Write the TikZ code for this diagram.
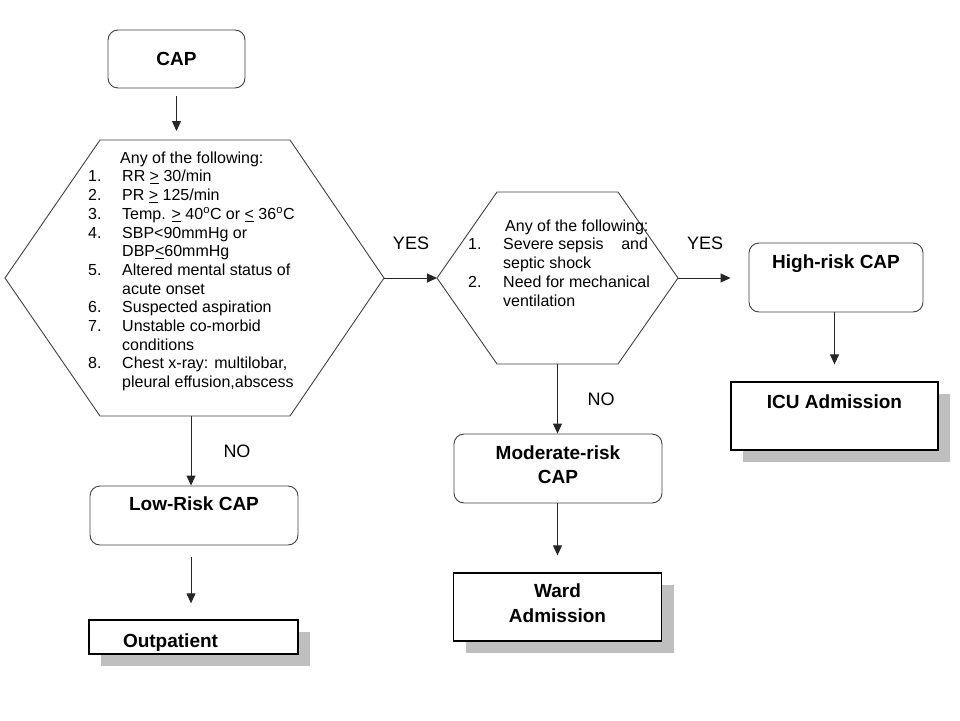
\documentclass[tikz,border=0pt]{standalone}
\usepackage{fontspec}
\setmainfont{Liberation Sans}
\usetikzlibrary{arrows.meta,shadows}

\newcommand{\num}[1]{\makebox[34pt][l]{#1}}

\tikzset{
  stepbox/.style={draw=black!75, line width=0.9pt, rounded corners=10pt, inner xsep=0pt, inner ysep=0pt,
    font=\fontsize{19}{24}\selectfont\bfseries, align=center},
  endbox/.style={draw=black, line width=1.3pt, fill=white, inner xsep=0pt, inner ysep=0pt,
    font=\fontsize{19}{25}\selectfont\bfseries, align=center,
    drop shadow={shadow xshift=12pt, shadow yshift=-12pt, opacity=1, fill=gray!50}},
  hexline/.style={draw=black!75, line width=0.9pt},
  listtext/.style={font=\fontsize{16}{18.7}\selectfont, align=left, inner sep=0pt},
  lbl/.style={font=\fontsize{18}{21}\selectfont},
  arr/.style={draw=black!85, line width=1pt, -{Triangle[length=10pt,width=9pt]}}
}

\begin{document}
\begin{tikzpicture}[x=1pt,y=-1pt]
  \useasboundingbox (0,0) rectangle (960,720);

  % boxes
  \node[stepbox, minimum width=137pt, text height=35pt, text depth=23pt] (cap) at (176.5,59) {CAP};
  \node[stepbox, minimum width=208pt, text height=24pt, text depth=35pt] (low) at (194,515.5) {Low-Risk CAP};
  \node[stepbox, minimum width=208pt, text height=49pt, text depth=20pt] (mod) at (558,468.5) {Moderate-risk\\CAP};
  \node[stepbox, minimum width=174pt, text height=25pt, text depth=44pt] (hi) at (836,277.5) {High-risk CAP};
  \node[endbox, minimum width=209pt, text width=209pt, align=left, text height=27pt, text depth=7pt] (out) at (193.5,637) {\hspace*{34pt}Outpatient};
  \node[endbox, minimum width=208pt, text height=49pt, text depth=19pt] (ward) at (557.5,607) {Ward\\Admission};
  \node[endbox, minimum width=207pt, text height=26pt, text depth=42pt] (icu) at (834.5,416) {ICU Admission};

  % first decision
  \coordinate (h1w) at (5,278);
  \coordinate (h1nw) at (100,140);
  \coordinate (h1ne) at (290,140);
  \coordinate (h1e) at (384,278);
  \coordinate (h1se) at (290,416);
  \coordinate (h1sw) at (100,416);
  \coordinate (h1s) at (191,416);
  \draw[hexline] (h1w) -- (h1nw) -- (h1ne) -- (h1e) -- (h1se) -- (h1sw) -- cycle;
  \node[listtext, anchor=north west] (crit1) at (88,151.5) {%
    \hspace*{32pt}Any of the following:\\
    \num{1.}RR \underline{>} 30/min\\
    \num{2.}PR \underline{>} 125/min\\
    \num{3.}Temp. \underline{>} 40\textsuperscript{o}C or \underline{<} 36\textsuperscript{o}C\\
    \num{4.}SBP<90mmHg or\\
    \num{}DBP\underline{<}60mmHg\\
    \num{5.}Altered mental status of\\
    \num{}acute onset\\
    \num{6.}Suspected aspiration\\
    \num{7.}Unstable co-morbid\\
    \num{}conditions\\
    \num{8.}Chest x-ray: multilobar,\\
    \num{}pleural effusion,abscess};

  % second decision
  \coordinate (h2w) at (437,278);
  \coordinate (h2nw) at (497,192);
  \coordinate (h2ne) at (618,192);
  \coordinate (h2e) at (678,278);
  \coordinate (h2se) at (618,364);
  \coordinate (h2sw) at (497,364);
  \coordinate (h2s) at (557.5,364);
  \draw[hexline] (h2w) -- (h2nw) -- (h2ne) -- (h2e) -- (h2se) -- (h2sw) -- cycle;
  \node[listtext, anchor=north west] (crit2) at (468,219.5) {%
    \hspace*{37pt}Any of the following:\\
    \makebox[35pt][l]{1.}Severe sepsis\hspace{1.1em}and\\
    \makebox[35pt][l]{}septic shock\\
    \makebox[35pt][l]{2.}Need for mechanical\\
    \makebox[35pt][l]{}ventilation};

  % connectors
  \draw[arr, shorten <=8pt, shorten >=9pt] (cap.south) -- (cap.south |- h1nw);
  \draw[arr] (h1s) -- (h1s |- low.north);
  \draw[arr, shorten <=12pt, shorten >=16pt] (low.south -| h1s) -- (out.north -| h1s);
  \draw[arr] (h1e) -- (h2w);
  \draw[arr, shorten >=18pt] (h2e) -- (h2e -| hi.west);
  \draw[arr, shorten >=17pt] (hi.south -| icu.north) -- (icu.north);
  \draw[arr] (h2s) -- (h2s |- mod.north);
  \draw[arr, shorten >=17pt] (mod.south -| h2s) -- (ward.north -| h2s);

  % labels
  \node[lbl] (yes1) at (411,243) {YES};
  \node[lbl] (yes2) at (705,243) {YES};
  \node[lbl] (no1) at (237,451) {NO};
  \node[lbl] (no2) at (601,399) {NO};
\end{tikzpicture}
\end{document}
